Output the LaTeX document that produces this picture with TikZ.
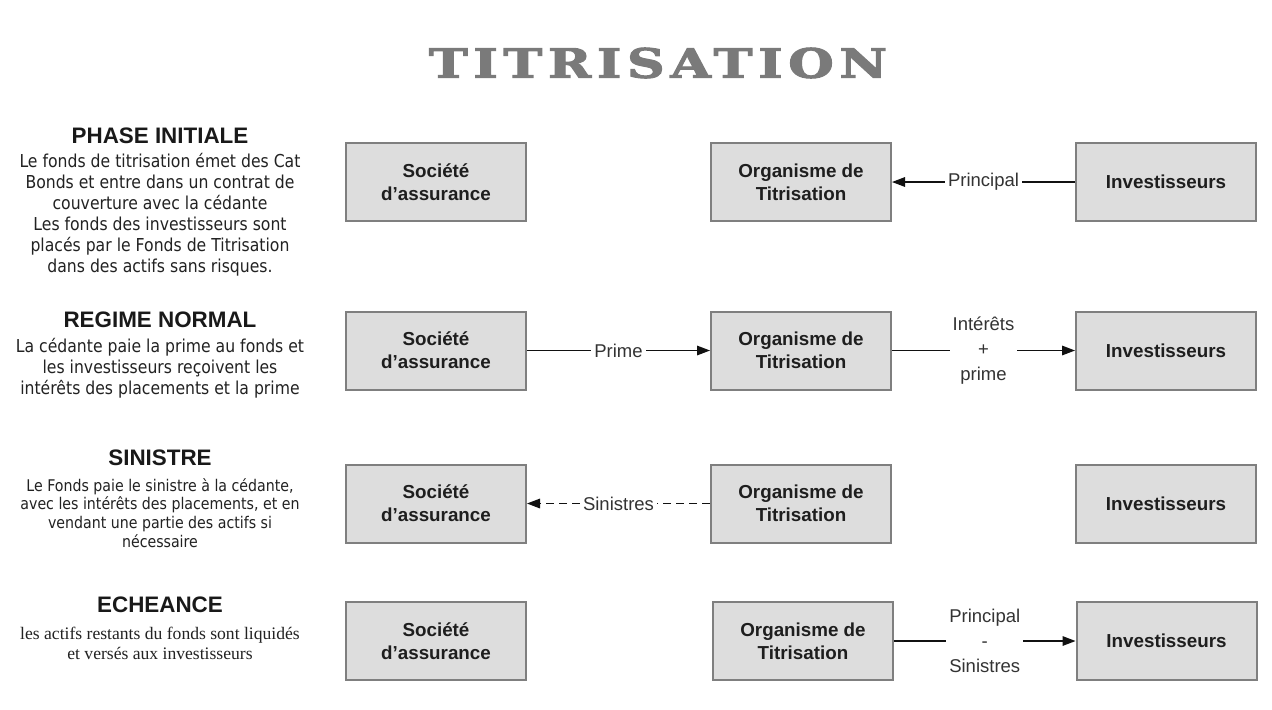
\documentclass[tikz,border=0pt]{standalone}
\usepackage{fontspec}
\usepackage{graphicx}
\usetikzlibrary{arrows.meta}
\setmainfont{Liberation Sans}
\newfontfamily\bodyfont[FakeStretch=0.88]{DejaVu Sans}
\newfontfamily\timesbody{Liberation Serif}
\newfontfamily\titlefont[LetterSpace=11, FakeBold=2.5]{DejaVu Serif Bold}
\definecolor{boxfill}{HTML}{DDDDDD}
\definecolor{boxline}{HTML}{7F7F7F}
\definecolor{boxtext}{HTML}{1E1E1E}
\definecolor{lbltext}{HTML}{333333}
\definecolor{bodytext}{HTML}{222222}
\definecolor{titlegray}{HTML}{7A7A7A}
\definecolor{wire}{HTML}{111111}
\tikzset{
  entity/.style={draw=boxline, fill=boxfill, line width=1pt,
    minimum width=90pt, minimum height=39pt, inner sep=0pt,
    align=center, text=boxtext,
    font=\bfseries\fontsize{9.4}{11.5}\selectfont},
  heading/.style={inner sep=0pt, text=black!90,
    font=\bfseries\fontsize{11.2}{13}\selectfont},
  body/.style={inner sep=0pt, align=center, text=bodytext},
  flow/.style={draw=wire, line width=0.6pt,
    -{Triangle[length=6.5pt,width=4.8pt]}},
  flowlbl/.style={fill=white, inner xsep=1.5pt, inner ysep=1pt,
    text=lbltext, align=center,
    font=\fontsize{9.25}{12.5}\selectfont},
}
\begin{document}
\begin{tikzpicture}[x=0.5pt,y=-0.5pt]
\useasboundingbox (0,0) rectangle (1272,709);
\fill[white] (0,0) rectangle (1272,709);

% title
\node[inner sep=0pt, text=titlegray, font=\titlefont] (title) at (658,63)
  {\resizebox{229pt}{15pt}{TITRISATION}};

% phase descriptions, left column
\node[heading] (h1) at (160,136) {PHASE INITIALE};
\node[body, font=\bodyfont\fontsize{8.9}{10.5}\selectfont] (t1) at (160,215)
  {Le fonds de titrisation émet des Cat\\Bonds et entre dans un contrat de\\couverture avec la cédante\\Les fonds des investisseurs sont\\placés par le Fonds de Titrisation\\dans des actifs sans risques.};

\node[heading] (h2) at (160,320) {REGIME NORMAL};
\node[body, font=\bodyfont\fontsize{8.9}{10.5}\selectfont] (t2) at (160,368)
  {La cédante paie la prime au fonds et\\les investisseurs reçoivent les\\intérêts des placements et la prime};

\node[heading] (h3) at (160,458) {SINISTRE};
\node[body, font=\bodyfont\fontsize{8.05}{9.4}\selectfont] (t3) at (160,513)
  {Le Fonds paie le sinistre à la cédante,\\avec les intérêts des placements, et en\\vendant une partie des actifs si\\nécessaire};

\node[heading] (h4) at (160,605) {ECHEANCE};
\node[body, font=\timesbody\fontsize{8.8}{10}\selectfont] (t4) at (160,643)
  {les actifs restants du fonds sont liquidés\\et versés aux investisseurs};

% row 1: phase initiale
\node[entity] (soc1) at (436,182) {Société\\d’assurance};
\node[entity] (org1) at (801,182) {Organisme de\\Titrisation};
\node[entity] (inv1) at (1166,182) {Investisseurs};
\draw[flow] (inv1) -- node[flowlbl] {Principal} (org1);

% row 2: regime normal
\node[entity] (soc2) at (436,350.5) {Société\\d’assurance};
\node[entity] (org2) at (801,350.5) {Organisme de\\Titrisation};
\node[entity] (inv2) at (1166,350.5) {Investisseurs};
\draw[flow] (soc2) -- node[flowlbl] {Prime} (org2);
\draw[flow] (org2) -- node[flowlbl] {Intérêts\\+\\prime} (inv2);

% row 3: sinistre
\node[entity] (soc3) at (436,503.5) {Société\\d’assurance};
\node[entity] (org3) at (801,503.5) {Organisme de\\Titrisation};
\node[entity] (inv3) at (1166,503.5) {Investisseurs};
\draw[flow, dash pattern=on 4pt off 2.5pt] (org3) -- node[flowlbl] {Sinistres} (soc3);

% row 4: echeance
\node[entity] (soc4) at (436,641) {Société\\d’assurance};
\node[entity] (org4) at (803,641) {Organisme de\\Titrisation};
\node[entity] (inv4) at (1166.5,641) {Investisseurs};
\draw[flow] (org4) -- node[flowlbl] {Principal\\-\\Sinistres} (inv4);
\end{tikzpicture}
\end{document}
